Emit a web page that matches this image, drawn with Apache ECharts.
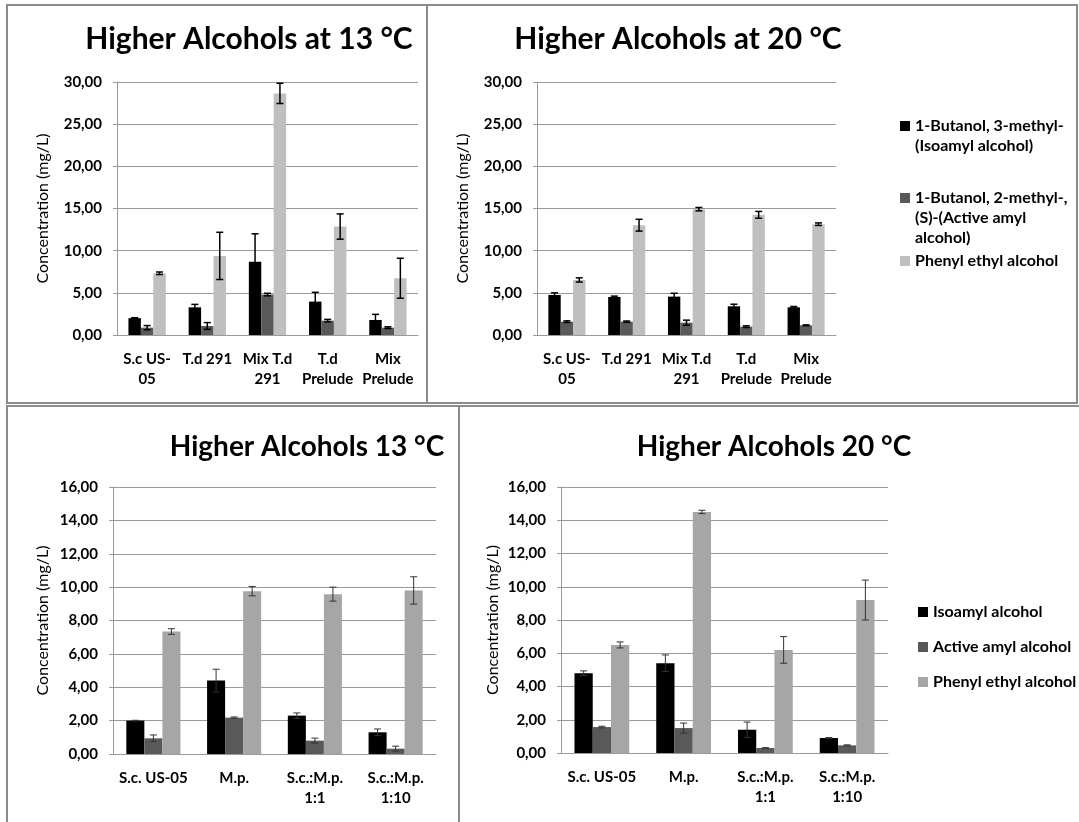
<!DOCTYPE html>
<html>
<head>
<meta charset="utf-8">
<script src="https://cdn.jsdelivr.net/npm/echarts@6/dist/echarts.min.js"></script>
<style>
  html, body { margin: 0; padding: 0; background: #fff; }
  #chart { width: 1079px; height: 822px; }
</style>
</head>
<body>
<div id="chart"></div>
<script>
// Fermentation trials: higher alcohol concentrations (mg/L), mean and error
const topCategories = ['S.c US-\n05', 'T.d 291', 'Mix T.d\n291', 'T.d\nPrelude', 'Mix\nPrelude'];
const bottomCategories = ['S.c. US-05', 'M.p.', 'S.c.:M.p.\n1:1', 'S.c.:M.p.\n1:10'];

const topNames = ['1-Butanol, 3-methyl-\n(Isoamyl alcohol)', '1-Butanol, 2-methyl-,\n(S)-(Active amyl\nalcohol)', 'Phenyl ethyl alcohol'];
const bottomNames = ['Isoamyl alcohol', 'Active amyl alcohol', 'Phenyl ethyl alcohol'];

// 13 °C, first trial
const t13Isoamyl = [2.0, 3.28, 8.7, 3.96, 1.78];
const t13IsoamylErr = [0.05, 0.35, 3.3, 1.1, 0.67];
const t13Active = [0.87, 1.07, 4.8, 1.7, 0.87];
const t13ActiveErr = [0.25, 0.4, 0.15, 0.15, 0.1];
const t13Phenyl = [7.32, 9.38, 28.65, 12.86, 6.73];
const t13PhenylErr = [0.15, 2.8, 1.2, 1.5, 2.37];

// 20 °C, first trial
const t20Isoamyl = [4.75, 4.51, 4.55, 3.4, 3.28];
const t20IsoamylErr = [0.25, 0.1, 0.4, 0.25, 0.1];
const t20Active = [1.58, 1.58, 1.46, 0.99, 1.15];
const t20ActiveErr = [0.1, 0.08, 0.3, 0.1, 0.05];
const t20Phenyl = [6.53, 13.02, 14.92, 14.25, 13.14];
const t20PhenylErr = [0.25, 0.7, 0.2, 0.4, 0.15];

// 13 °C, mixed cultures
const b13Isoamyl = [2.0, 4.4, 2.3, 1.3];
const b13IsoamylErr = [0.02, 0.68, 0.16, 0.2];
const b13Active = [0.94, 2.18, 0.8, 0.32];
const b13ActiveErr = [0.2, 0.04, 0.15, 0.15];
const b13Phenyl = [7.34, 9.76, 9.58, 9.8];
const b13PhenylErr = [0.17, 0.28, 0.42, 0.82];

// 20 °C, mixed cultures
const b20Isoamyl = [4.8, 5.4, 1.4, 0.9];
const b20IsoamylErr = [0.14, 0.5, 0.46, 0.03];
const b20Active = [1.56, 1.5, 0.3, 0.46];
const b20ActiveErr = [0.05, 0.3, 0.02, 0.03];
const b20Phenyl = [6.5, 14.5, 6.2, 9.2];
const b20PhenylErr = [0.18, 0.1, 0.8, 1.2];

const topTicks = { min: 0, max: 30, interval: 5 };
const bottomTicks = { min: 0, max: 16, interval: 2 };

const FONT = 'Lato, "Open Sans", sans-serif';
const topColors = ['#000000', '#595959', '#bfbfbf'];
const bottomColors = ['#000000', '#595959', '#a6a6a6'];

const fmt = v => v.toFixed(2).replace('.', ',');

const panels = [
  { title: 'Higher Alcohols at 13 °C', cx: 244, ty: 19, tSize: 30,
    grid: { left: 117, right: 661, top: 82, bottom: 487 }, nameGap: 66,
    cats: topCategories, names: topNames, colors: topColors, ticks: topTicks, gap: 0.38,
    vals: [t13Isoamyl, t13Active, t13Phenyl], errs: [t13IsoamylErr, t13ActiveErr, t13PhenylErr],
    errColor: '#000', errWidth: 1.5 },
  { title: 'Higher Alcohols at 20 °C', cx: 673, ty: 19, tSize: 30,
    grid: { left: 537, right: 243, top: 82, bottom: 487 }, nameGap: 66,
    cats: topCategories, names: topNames, colors: topColors, ticks: topTicks, gap: 0.38,
    vals: [t20Isoamyl, t20Active, t20Phenyl], errs: [t20IsoamylErr, t20ActiveErr, t20PhenylErr],
    errColor: '#000', errWidth: 1.5 },
  { title: 'Higher Alcohols 13 °C', cx: 302, ty: 428, tSize: 28,
    grid: { left: 113, right: 643, top: 487, bottom: 68 }, nameGap: 62,
    cats: bottomCategories, names: bottomNames, colors: bottomColors, ticks: bottomTicks, gap: 0.33,
    vals: [b13Isoamyl, b13Active, b13Phenyl], errs: [b13IsoamylErr, b13ActiveErr, b13PhenylErr],
    errColor: '#333', errWidth: 1 },
  { title: 'Higher Alcohols 20 °C', cx: 769, ty: 428, tSize: 28,
    grid: { left: 561, right: 191, top: 487, bottom: 69 }, nameGap: 60,
    cats: bottomCategories, names: bottomNames, colors: bottomColors, ticks: bottomTicks, gap: 0.33,
    vals: [b20Isoamyl, b20Active, b20Phenyl], errs: [b20IsoamylErr, b20ActiveErr, b20PhenylErr],
    errColor: '#333', errWidth: 1 }
];

const option = {
  backgroundColor: '#fff',
  animation: false,
  textStyle: { fontFamily: FONT },
  title: [], grid: [], xAxis: [], yAxis: [], series: [], legend: []
};

panels.forEach((p, gi) => {
  option.title.push({
    text: p.title, left: p.cx, top: p.ty, textAlign: 'center',
    textStyle: { fontFamily: FONT, fontSize: p.tSize, fontWeight: 'bold', color: '#000' }
  });
  option.grid.push(Object.assign({ containLabel: false }, p.grid));
  option.xAxis.push({
    type: 'category', gridIndex: gi, data: p.cats,
    axisLine: { lineStyle: { color: '#9a9a9a', width: 1 } },
    axisTick: { show: false },
    axisLabel: { fontFamily: FONT, fontSize: 15, fontWeight: 'bold', color: '#000', lineHeight: 20, margin: 14, interval: 0 }
  });
  option.yAxis.push({
    type: 'value', gridIndex: gi, min: p.ticks.min, max: p.ticks.max, interval: p.ticks.interval,
    name: 'Concentration (mg/L)', nameLocation: 'middle', nameGap: p.nameGap, nameRotate: 90,
    nameTextStyle: { fontFamily: FONT, fontSize: 16, color: '#000' },
    axisLine: { show: true, lineStyle: { color: '#9a9a9a', width: 1 } },
    axisTick: { show: true, length: 4, lineStyle: { color: '#9a9a9a' } },
    splitLine: { lineStyle: { color: '#9a9a9a', width: 1 } },
    axisLabel: { fontFamily: FONT, fontSize: 15, fontWeight: 'bold', color: '#000', margin: 15, formatter: fmt }
  });

  // bars
  p.vals.forEach((arr, k) => {
    option.series.push({
      type: 'bar', name: p.names[k], xAxisIndex: gi, yAxisIndex: gi,
      data: arr, barGap: '0%', barCategoryGap: (p.gap * 100) + '%',
      itemStyle: { color: p.colors[k] }, z: 2
    });
  });

  // error bars, placed over the matching bar of each group
  p.vals.forEach((arr, k) => {
    const data = arr.map((v, i) => [i, v, p.errs[k][i]]);
    option.series.push({
      type: 'custom', name: 'errorbar-' + gi + '-' + k, xAxisIndex: gi, yAxisIndex: gi,
      data: data, z: 5, silent: true,
      renderItem: (params, api) => {
        const i = api.value(0), v = api.value(1), e = api.value(2);
        const band = api.size([1, 0])[0];
        const bw = band * (1 - p.gap) / 3;
        const c = api.coord([i, v]);
        const x = c[0] + (k - 1) * bw;
        const yHi = api.coord([i, v + e])[1];
        const yLo = api.coord([i, Math.max(0, v - e)])[1];
        const cap = 3.5;
        const st = { stroke: p.errColor, lineWidth: p.errWidth };
        return {
          type: 'group',
          children: [
            { type: 'line', shape: { x1: x, y1: yHi, x2: x, y2: yLo }, style: st },
            { type: 'line', shape: { x1: x - cap, y1: yHi, x2: x + cap, y2: yHi }, style: st },
            { type: 'line', shape: { x1: x - cap, y1: yLo, x2: x + cap, y2: yLo }, style: st }
          ]
        };
      }
    });
  });
});

// legend for the first trial: one block per compound; the icon path keeps the
// square at the top of a taller box so it sits beside the first text line
const topLegendRows = [
  { name: topNames[0], top: 111, lines: 2 },
  { name: topNames[1], top: 183, lines: 3 },
  { name: topNames[2], top: 246, lines: 1 }
];
topLegendRows.forEach((r, k) => {
  const h = 10 + (r.lines - 1) * 20;
  option.legend.push({
    left: 895, top: r.top, orient: 'vertical', selectedMode: false,
    icon: r.lines > 1 ? 'path://M0,0h10v10h-10zM0,' + h : 'rect',
    itemWidth: 10, itemHeight: h,
    data: [{ name: r.name, itemStyle: { color: topColors[k] } }],
    textStyle: { fontFamily: FONT, fontSize: 16, fontWeight: 'bold', color: '#000', lineHeight: 20 }
  });
});

// legend for the mixed cultures
option.legend.push({
  left: 913, top: 597, orient: 'vertical', selectedMode: false,
  icon: 'rect', itemWidth: 10, itemHeight: 10, itemGap: 15,
  data: bottomNames.map((n, k) => ({ name: n, itemStyle: { color: bottomColors[k] } })),
  textStyle: { fontFamily: FONT, fontSize: 16, fontWeight: 'bold', color: '#000', lineHeight: 20 }
});

// panel frames
const frame = { fill: 'none', stroke: '#8c8c8c', lineWidth: 2 };
option.graphic = [
  { type: 'rect', shape: { x: 7, y: 5, width: 420, height: 398 }, style: frame, z: 0 },
  { type: 'rect', shape: { x: 427, y: 5, width: 650, height: 398 }, style: frame, z: 0 },
  { type: 'rect', shape: { x: 7, y: 406, width: 452, height: 420 }, style: frame, z: 0 },
  { type: 'rect', shape: { x: 459, y: 406, width: 624, height: 420 }, style: frame, z: 0 }
];

const chart = echarts.init(document.getElementById('chart'), null, { renderer: 'canvas' });
chart.setOption(option);
</script>
</body>
</html>
